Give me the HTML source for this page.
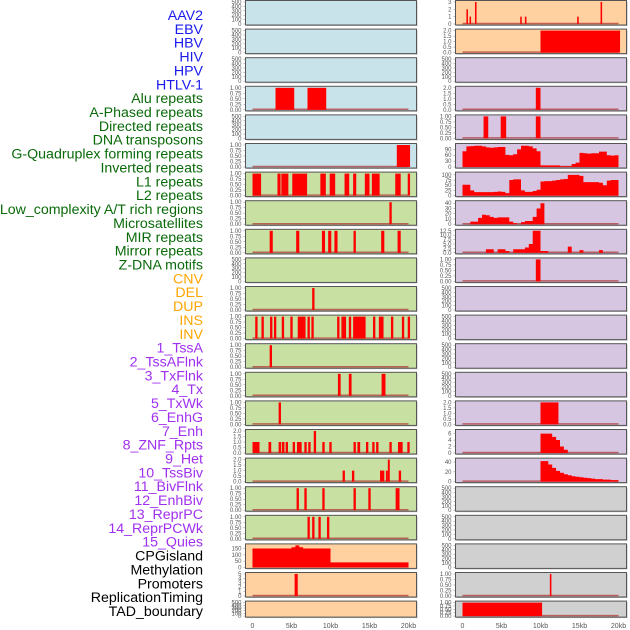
<!DOCTYPE html>
<html><head><meta charset="utf-8">
<style>
html,body{margin:0;padding:0;background:#fff;}
svg{display:block;}
text{font-family:"Liberation Sans",sans-serif;}
</style></head>
<body>
<svg id="chart" width="630" height="630" viewBox="0 0 630 630"></svg>
<script>
// ---- data (kb intervals: [start, end, value]) ----
const ebv = [[0.5,0.7,2],[0.9,1.1,1],[1.6,1.8,3],[7.4,7.6,1],[8.0,8.2,1],[14.7,14.9,1],[17.7,17.9,3]];
const hiv = [[10.0,20.2,2]];
const alu = [[2.95,5.35,1],[7.05,9.45,1]];
const aPhased = [[9.4,10.0,2]];
const dnaTransposons = [[2.7,3.3,1],[4.9,5.6,1],[9.4,10.0,1]];
const gQuad = [[18.5,20.2,1]];
const l1 = [[0,1.1,1],[3.2,3.6,1],[3.7,4.6,1],[5.1,7.0,1],[8.7,9.4,1],[9.9,10.6,1],[11.8,12.4,1],[12.9,13.3,1],[14.4,15.0,1],[15.3,16.3,1],[18.3,19.0,1],[19.9,20.2,1]];
const lowComplexity = [[17.55,17.85,1]];
const mir = [[2.2,2.6,1],[5.6,6.0,1],[8.9,9.3,1],[9.7,10.1,1],[10.5,10.9,1],[12.95,13.25,1],[16.5,16.9,1],[18.6,19.0,1]];
const cnv = [[9.4,10.0,1]];
const del = [[7.65,7.95,1]];
const ins = [[0.35,0.65,1],[1.15,1.45,1],[2.25,2.55,1],[2.75,3.05,1],[3.75,4.05,1],[4.85,5.15,1],[5.8,6.8,1],[7.05,7.35,1],[7.55,7.85,1],[10.85,11.15,1],[11.4,12.0,1],[12.35,12.65,1],[12.9,14.5,1],[15.45,15.75,1],[16.2,16.8,1],[17.75,18.05,1],[19.15,19.45,1],[19.9,20.2,1]];
const tssA = [[2.2,2.5,1]];
const txFlnk = [[10.95,11.3,1],[12.35,12.7,1],[16.55,17.05,1]];
const txWk = [[3.35,3.65,1]];
const enhG = [[10.0,12.3,2]];
const enh = [[0,0.9,1],[2.05,2.4,1],[3.35,3.65,1],[3.75,4.1,1],[4.25,4.55,1],[5.15,5.45,1],[5.7,6.3,1],[6.65,6.95,1],[7.15,7.45,1],[7.85,8.15,2],[8.95,9.25,1],[9.85,10.15,1],[12.95,13.25,1],[13.45,13.8,1],[14.55,14.85,1],[15.35,15.65,1],[15.85,16.15,1],[17.55,17.85,1],[18.65,19.25,1],[19.85,20.15,1]];
const het = [[11.55,11.85,1],[12.75,13.05,1],[16.35,16.9,1],[17.1,17.35,1],[17.35,17.6,2],[18.75,19.05,1]];
const bivFlnk = [[5.65,5.95,1],[6.65,6.95,1],[8.95,9.25,1],[12.95,13.25,1],[14.85,15.15,1],[18.35,18.85,1]];
const reprPC = [[7.05,7.35,1],[7.65,7.95,1],[8.45,8.75,1],[9.55,9.85,1]];
const methylation = [[5.4,5.8,5]];
const promoters = [[11.2,11.4,1]];
const tad = [[0,10.2,1]];
// ---- data (0.5 kb bins, 40 per 20 kb) ----
const invertedBins = [80,105,106,108,108,105,100,98,100,102,102,62,60,65,90,108,108,105,95,80,8,8,8,8,8,4,4,4,15,22,72,70,68,70,70,78,78,60,58,60];
const l2Bins = [52,52,25,17,17,17,17,17,18,20,18,12,75,78,78,25,18,18,22,28,68,70,70,72,75,78,80,100,100,100,95,65,65,65,65,62,50,72,75,75];
const microBins = [0,0,5,5,12,18,17,14,12,13,13,13,5,2,0,4,6,6,14,30,40,0,0,0,0,0,0,0,0,0,0,0,0,0,0,0,0,0,0,0];
const mirrorBins = [0,0,0,0,0,0,2,2,0,2,2,1,0,2,2,2,3,5,12.5,12.5,1,1,0,0,0,0,0,3.5,0,0,1.5,0,0,0,0,1.5,0,0,0,0];
const znfBins = [0,0,0,0,0,0,0,0,0,0,0,0,0,0,0,0,0,0,0,0,6,6,6,5,4,2,1,0,0,0,0,0,0,0,0,0,0,0,0,0];
const tssBivBins = [0,0,0,0,0,0,0,0,0,0,0,0,0,0,0,0,0,0,0,0,42,42,35,28,22,18,15,13,11,10,9,8,7,6,5,5,4,4,3,3];
const quiesBins = [150,150,150,150,150,150,150,150,150,150,160,175,160,150,150,150,150,150,150,150,40,40,40,40,40,40,40,40,40,40,40,40,40,40,40,40,40,40,40,40];
// ---- tick sets ----
const ticksEmpty = [0,100,200,300,400,500];
const ticksUnit = [0,0.25,0.5,0.75,1];
const ticksTwo = [0,0.5,1,1.5,2];
const ticksEbv = [0,1,2,3];
const ticksInverted = [0,30,60,90];
const ticksL2 = [0,25,50,75,100];
const ticksMicro = [0,10,20,30,40];
const ticksMirror = [0,2.5,5,7.5,10,12.5];
const ticksZnf = [0,2,4,6];
const ticksTssBiv = [0,20,40];
const ticksQuies = [0,50,100,150];
const ticksMeth = [0,1,2,3,4,5];
const xTickValues = [0,5,10,15,20];
const xTickLabels = ["0","5kb","10kb","15kb","20kb"];

const labels = [
 ["AAV2","#1a1aee"],["EBV","#1a1aee"],["HBV","#1a1aee"],["HIV","#1a1aee"],["HPV","#1a1aee"],["HTLV-1","#1a1aee"],
 ["Alu repeats","#0a6a0a"],["A-Phased repeats","#0a6a0a"],["Directed repeats","#0a6a0a"],["DNA transposons","#0a6a0a"],["G-Quadruplex forming repeats","#0a6a0a"],["Inverted repeats","#0a6a0a"],["L1 repeats","#0a6a0a"],["L2 repeats","#0a6a0a"],["Low_complexity A/T rich regions","#0a6a0a"],["Microsatellites","#0a6a0a"],["MIR repeats","#0a6a0a"],["Mirror repeats","#0a6a0a"],["Z-DNA motifs","#0a6a0a"],
 ["CNV","#ffa500"],["DEL","#ffa500"],["DUP","#ffa500"],["INS","#ffa500"],["INV","#ffa500"],
 ["1_TssA","#a030f0"],["2_TssAFlnk","#a030f0"],["3_TxFlnk","#a030f0"],["4_Tx","#a030f0"],["5_TxWk","#a030f0"],["6_EnhG","#a030f0"],["7_Enh","#a030f0"],["8_ZNF_Rpts","#a030f0"],["9_Het","#a030f0"],["10_TssBiv","#a030f0"],["11_BivFlnk","#a030f0"],["12_EnhBiv","#a030f0"],["13_ReprPC","#a030f0"],["14_ReprPCWk","#a030f0"],["15_Quies","#a030f0"],
 ["CPGisland","#000"],["Methylation","#000"],["Promoters","#000"],["ReplicationTiming","#000"],["TAD_boundary","#000"]
];

const BLUE="#c9e3eb",GREEN="#c9e0a3",ORANGE="#ffd1a0",PURPLE="#d6c6e2",GRAY="#d0d0d0";
const E = (bg)=>[bg,500,ticksEmpty,0,null,null];
const tracks = [
 E(BLUE), [ORANGE,3,ticksEbv,0,"iv",ebv],
 E(BLUE), [ORANGE,2,ticksTwo,1,"iv",hiv],
 E(BLUE), E(PURPLE),
 [BLUE,1,ticksUnit,2,"iv",alu], [PURPLE,2,ticksTwo,1,"iv",aPhased],
 E(BLUE), [PURPLE,1,ticksUnit,2,"iv",dnaTransposons],
 [BLUE,1,ticksUnit,2,"iv",gQuad], [PURPLE,112,ticksInverted,0,"bin",invertedBins],
 [GREEN,1,ticksUnit,2,"iv",l1], [PURPLE,106,ticksL2,0,"bin",l2Bins],
 [GREEN,1,ticksUnit,2,"iv",lowComplexity], [PURPLE,42,ticksMicro,0,"bin",microBins],
 [GREEN,1,ticksUnit,2,"iv",mir], [PURPLE,12.5,ticksMirror,1,"bin",mirrorBins],
 E(GREEN), [PURPLE,1,ticksUnit,2,"iv",cnv],
 [GREEN,1,ticksUnit,2,"iv",del], E(PURPLE),
 [GREEN,1,ticksUnit,2,"iv",ins], E(PURPLE),
 [GREEN,1,ticksUnit,2,"iv",tssA], E(PURPLE),
 [GREEN,1,ticksUnit,2,"iv",txFlnk], E(PURPLE),
 [GREEN,1,ticksUnit,2,"iv",txWk], [PURPLE,2,ticksTwo,1,"iv",enhG],
 [GREEN,2,ticksTwo,1,"iv",enh], [PURPLE,6.8,ticksZnf,0,"bin",znfBins],
 [GREEN,2,ticksTwo,1,"iv",het], [PURPLE,45,ticksTssBiv,0,"bin",tssBivBins],
 [GREEN,1,ticksUnit,2,"iv",bivFlnk], E(GRAY),
 [GREEN,1,ticksUnit,2,"iv",reprPC], E(GRAY),
 [ORANGE,175,ticksQuies,0,"bin",quiesBins], E(GRAY),
 [ORANGE,5,ticksMeth,0,"iv",methylation], [GRAY,1,ticksUnit,2,"iv",promoters],
 E(ORANGE), [GRAY,1,ticksUnit,2,"iv",tad]
];

const NS="http://www.w3.org/2000/svg";
const svg=document.getElementById('chart');
function mk(tag,attrs,parent){const e=document.createElementNS(NS,tag);for(const k in attrs)e.setAttribute(k,attrs[k]);(parent||svg).appendChild(e);return e;}

labels.forEach((l,k)=>{
  const t=mk('text',{x:203,y:20+k*13.86,'text-anchor':'end','font-size':14.2,fill:l[1]});
  t.textContent=l[0];
  
  
});

const PX=[245.5,455.5], PW=171, X0=[252.5,462.5], KB=7.8;
tracks.forEach((tr,k)=>{
  const row=Math.floor(k/2), col=k%2;
  const top=0.5+row*28.6, h=row===21?16:24.5, bottom=top+h;
  const [bg,ymax,ticks,dec,kind,data]=tr;
  const xs=v=>X0[col]+v*KB;
  const ys=v=>bottom-1-v/ymax*(h-2.5);
  const g=mk('g',{});
  
  
  mk('rect',{x:PX[col]+1,y:top+1,width:PW,height:h,fill:'#bbb'},g);
  mk('rect',{x:PX[col],y:top,width:PW,height:h,fill:bg,stroke:'#555','stroke-width':1},g);
  if(kind){
    mk('line',{x1:xs(0),x2:xs(20),y1:ys(0)-0.5,y2:ys(0)-0.5,stroke:'#b03030','stroke-width':1.5,opacity:0.7},g);
  }
  if(kind==="iv"){
    data.forEach(d=>{
      const r=mk('rect',{x:xs(d[0]),y:ys(d[2]),width:Math.max(1.5,xs(d[1])-xs(d[0])),height:ys(0)-ys(d[2]),fill:'#ff0000'},g);
      
      
    });
  } else if(kind==="bin"){
    let p='M'+xs(0)+','+ys(0);
    data.forEach((v,i)=>{p+=' L'+xs(i*0.5)+','+ys(v)+' L'+xs(i*0.5+0.5)+','+ys(v);});
    p+=' L'+xs(20)+','+ys(0)+' Z';
    const a=mk('path',{d:p,fill:'#ff0000'},g);
    
    
  }
  ticks.forEach(t=>{
    const tx=mk('text',{x:PX[col]-4,y:ys(t)+2,'text-anchor':'end','font-size':6,fill:'#555'},g);
    tx.textContent=t.toFixed(dec);
    mk('line',{x1:PX[col]-2,x2:PX[col],y1:ys(t),y2:ys(t),stroke:'#777','stroke-width':0.5},g);
  });
});

[0,1].forEach(col=>{
  const g=mk('g',{});
  
  
  xTickValues.forEach((v,i)=>{
    const t=mk('text',{x:X0[col]+v*KB,y:628,'text-anchor':'middle','font-size':7,fill:'#555'},g);
    t.textContent=xTickLabels[i];
  });
});
</script>
</body></html>
